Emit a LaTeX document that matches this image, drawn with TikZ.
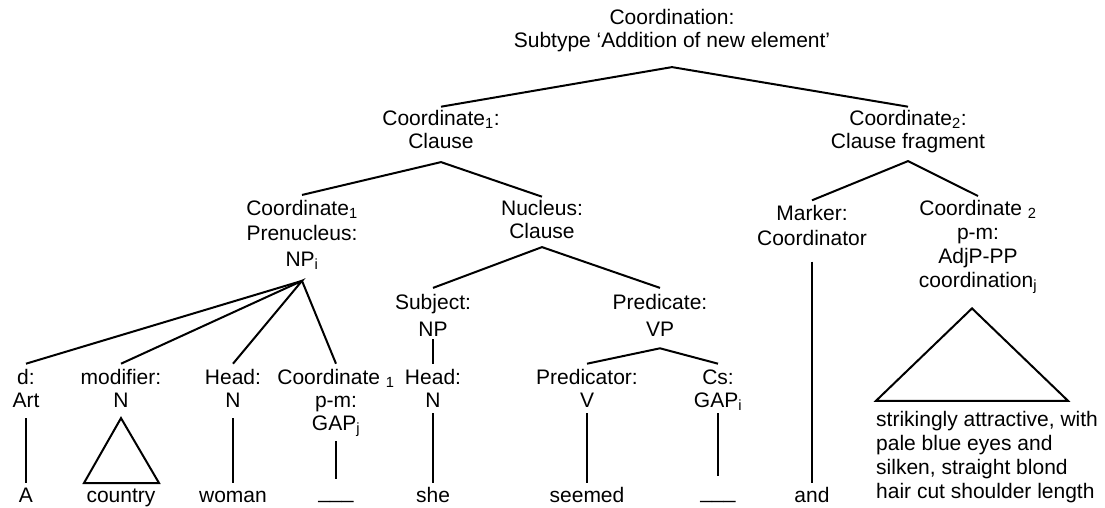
\documentclass[tikz,border=0pt]{standalone}
\usepackage{fontspec}
\setmainfont{Liberation Sans}
\usetikzlibrary{calc}

% centred multi-line label: #1 = line spacing, #2 = lines
\newcommand\lbl[2]{{\fontsize{21}{#1}\selectfont\begin{tabular}[t]{@{}c@{}}#2\end{tabular}}}
% left-aligned multi-line text
\newcommand\lblleft[2]{{\fontsize{21}{#1}\selectfont\begin{tabular}[t]{@{}l@{}}#2\end{tabular}}}
% gap marker
\newcommand\gapmark{\raisebox{4pt}{\_\_\_}}

\tikzset{
  lab/.style={anchor=base, inner xsep=0pt, inner ysep=2pt},
  low/.style={lab, inner ysep=4pt},
  treeline/.style={line width=2pt, line join=miter}
}

\begin{document}
\begin{tikzpicture}[x=1pt, y=-1pt]
\useasboundingbox (0,0) rectangle (1105,508);

% ---- labels ----
\node[lab] (root) at (672,25) {\lbl{23}{Coordination:\\Subtype ‘Addition of new element’}};
\node[lab] (cl1) at (441,125) {\lbl{23}{Coordinate\textsubscript{1}:\\Clause}};
\node[lab] (cl2) at (908,125) {\lbl{23}{Coordinate\textsubscript{2}:\\Clause fragment}};
\node[lab] (pren) at (302,215) {\lbl{25.5}{Coordinate\textsubscript{1}\\Prenucleus:\\NP\textsubscript{i}}};
\node[lab] (nuc) at (542,215) {\lbl{23}{Nucleus:\\Clause}};
\node[lab] (mark) at (812,220) {\lbl{25}{Marker:\\Coordinator}};
\node[lab] (cpm) at (978,215) {\lbl{24}{Coordinate \textsubscript{2}\\p-m:\\AdjP-PP\\coordination\textsubscript{j}}};
\node[lab] (subj) at (433,309) {\lbl{27}{Subject:\\NP}};
\node[lab] (pred) at (660,309) {\lbl{27}{Predicate:\\VP}};
\node[low] (det) at (26,384) {\lbl{23}{d:\\Art}};
\node[low] (mod) at (121,384) {\lbl{23}{modifier:\\N}};
\node[low] (head) at (233,384) {\lbl{23}{Head:\\N}};
\node[low] (gapj) at (336,384) {\lbl{23}{Coordinate \textsubscript{1}\\p-m:\\GAP\textsubscript{j}}};
\node[low] (shead) at (433,384) {\lbl{23}{Head:\\N}};
\node[low] (pcat) at (587,384) {\lbl{23}{Predicator:\\V}};
\node[low] (cs) at (718,384) {\lbl{23}{Cs:\\GAP\textsubscript{i}}};

% ---- words ----
\node[lab] (w-a) at (26,502) {\lbl{24}{A}};
\node[lab] (w-country) at (121,502) {\lbl{24}{country}};
\node[lab] (w-woman) at (233,502) {\lbl{24}{woman}};
\node[lab] (w-gapj) at (336,502) {\lbl{24}{\gapmark}};
\node[lab] (w-she) at (433,502) {\lbl{24}{she}};
\node[lab] (w-seemed) at (587,502) {\lbl{24}{seemed}};
\node[lab] (w-gapi) at (718,502) {\lbl{24}{\gapmark}};
\node[lab] (w-and) at (812,502) {\lbl{24}{and}};
\node[lab, anchor=base west] (desc) at (876,426) {\lblleft{24.3}{strikingly attractive, with\\pale blue eyes and\\silken, straight blond\\hair cut shoulder length}};

% ---- branching points ----
\coordinate (rootj) at ([yshift=-10pt]root.south);
\coordinate (cl1j) at ([yshift=-5pt]cl1.south);
\coordinate (cl2j) at ([yshift=-4pt]cl2.south);
\coordinate (prenj) at ([yshift=-5pt]pren.south);
\coordinate (nucj) at (nuc.south);
\coordinate (predj) at ([yshift=-2pt]pred.south);

% ---- branches ----
\draw[treeline] (cl1.north) -- (rootj) -- (cl2.north);
\draw[treeline] (pren.north) -- (cl1j) -- (nuc.north);
\draw[treeline] (mark.north) -- (cl2j) -- (cpm.north);
\draw[treeline] (det.north) -- (prenj) -- (gapj.north);
\draw[treeline] (mod.north) -- (prenj) -- (head.north);
\draw[treeline] (subj.north) -- (nucj) -- (pred.north);
\draw[treeline] (pcat.north) -- (predj) -- (cs.north);
\draw[treeline] ([yshift=7pt]subj.south) -- (shead.north);

% ---- unary lines down to the words ----
\draw[treeline] (det.south) -- (w-a.north);
\draw[treeline] (head.south) -- (w-woman.north);
\draw[treeline] (gapj.south) -- ([yshift=4pt]w-gapj.north);
\draw[treeline] ([yshift=5pt]shead.south) -- (w-she.north);
\draw[treeline] ([yshift=5pt]pcat.south) -- (w-seemed.north);
\draw[treeline] ([yshift=5pt]cs.south) -- ([yshift=7pt]w-gapi.north);
\draw[treeline] ([yshift=-7pt]mark.south) -- (w-and.north);

% ---- roof triangles ----
\draw[treeline] (mod.south) -- ([xshift=-37pt]w-country.north) -- ([xshift=38pt]w-country.north) -- cycle;
\draw[treeline] ([xshift=-6pt,yshift=-12pt]cpm.south) -- ([yshift=6pt]desc.north west) -- ([xshift=192pt,yshift=6pt]desc.north west) -- cycle;
\end{tikzpicture}
\end{document}
